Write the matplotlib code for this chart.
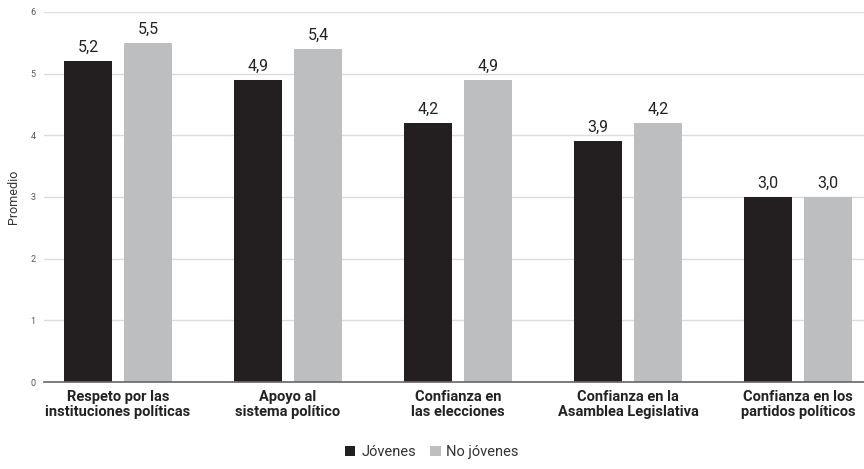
import matplotlib.pyplot as plt
import numpy as np

categories = ["Respeto por las\ninstituciones políticas", "Apoyo al\nsistema político",
              "Confianza en\nlas elecciones", "Confianza en la\nAsamblea Legislativa",
              "Confianza en los\npartidos políticos"]
jovenes = [5.2, 4.9, 4.2, 3.9, 3.0]
no_jovenes = [5.5, 5.4, 4.9, 4.2, 3.0]
series_names = ["Jóvenes", "No jóvenes"]

plt.rcParams['font.family'] = ['Roboto', 'DejaVu Sans']

dark = "#231f20"
light = "#bcbec0"

fig = plt.figure(figsize=(8.64, 4.69), dpi=100)
ax = fig.add_axes([0.051, 0.1855, 0.949, 0.789])

x = np.arange(len(categories))
w = 0.282
off = 0.176
b1 = ax.bar(x - off, jovenes, w, color=dark, label=series_names[0], zorder=3)
b2 = ax.bar(x + off, no_jovenes, w, color=light, label=series_names[1], zorder=3)

# value labels with decimal comma
for bars, vals in ((b1, jovenes), (b2, no_jovenes)):
    for r, v in zip(bars, vals):
        ax.text(r.get_x() + r.get_width() / 2, v + 0.1, f"{v:.1f}".replace(".", ","),
                ha="center", va="bottom", fontsize=11.5, color="#222222")

ax.set_xlim(-0.435, 4.388)
ax.set_ylim(0, 6)
ax.set_yticks(range(7))
ax.tick_params(axis="y", length=0, labelsize=6.5, labelcolor="#555555", pad=6)
ax.tick_params(axis="x", length=0, pad=6)
ax.set_xticks(x)
ax.set_xticklabels(categories, fontsize=10.5, fontweight="bold", color="#222222", linespacing=1.05)
ax.grid(axis="y", color="#dcdcdc", linewidth=1, zorder=0)
for s in ("top", "right", "left"):
    ax.spines[s].set_visible(False)
ax.spines["bottom"].set_color("#666666")
ax.spines["bottom"].set_linewidth(1.2)
ax.spines["bottom"].set_zorder(4)
ax.set_ylabel("Promedio", fontsize=9, color="#333333")
ax.yaxis.set_label_coords(-0.029, 0.5)

fig.legend(handles=[b1, b2], labels=series_names, loc="center", bbox_to_anchor=(0.5, 0.036),
           ncol=2, frameon=False, fontsize=10.5, handlelength=0.7, handleheight=0.7,
           handletextpad=0.4, columnspacing=1.0, labelcolor="#333333")

fig.savefig("out.png", dpi=100)
